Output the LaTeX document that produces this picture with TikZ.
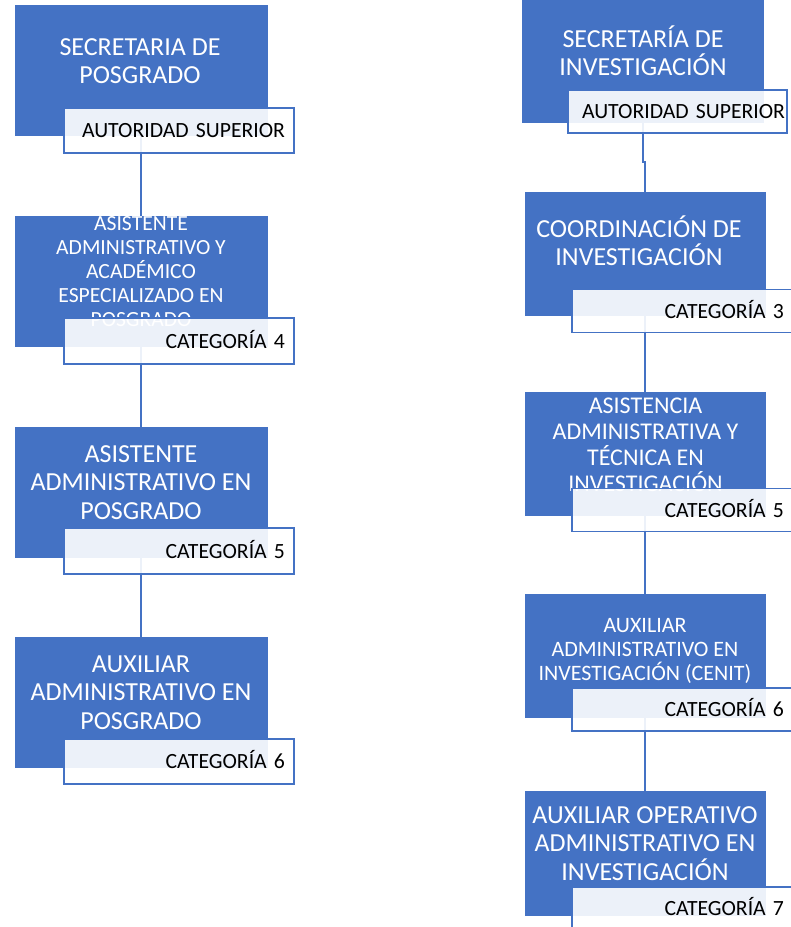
\documentclass[tikz,border=0pt]{standalone}
\usepackage{fontspec}
\setmainfont{Carlito}
\definecolor{unitblue}{HTML}{4472C4}
\begin{document}
\begin{tikzpicture}[x=1pt,y=-1pt,
  unit/.style={fill=unitblue, draw=none, inner sep=0pt, outer sep=0pt},
  % multi-line names: the base anchor sits on the baseline of the last line
  unittext/.style={text=white, align=center, inner sep=0pt, anchor=base},
  big/.style={font=\fontsize{26}{28.5}\selectfont},
  mid/.style={font=\fontsize{24}{26}\selectfont},
  smallish/.style={font=\fontsize{22}{24.3}\selectfont},
  small/.style={font=\fontsize{21.6}{24}\selectfont},
  tag/.style={draw=unitblue, line width=1.8pt, fill=white, fill opacity=0.9,
    text opacity=1, text=black, font=\fontsize{21.7}{24}\selectfont,
    text height=14pt, text depth=0pt, inner ysep=0pt, outer sep=0pt,
    align=right},
  link/.style={draw=unitblue, line width=2pt}]

\clip (0,0) rectangle (791,927);

% ---- Posgrado column: unit boxes
\node[unit, minimum width=253, minimum height=131] (p1) at (141,70.5) {};
\node[unit, minimum width=253, minimum height=131] (p2) at (141,281.5) {};
\node[unit, minimum width=253, minimum height=131] (p3) at (141,492.5) {};
\node[unit, minimum width=253, minimum height=131] (p4) at (141,702.5) {};

% ---- Investigacion column: unit boxes
\node[unit, minimum width=242, minimum height=129] (r1) at (643,58.5) {};
\node[unit, minimum width=241, minimum height=124] (r2) at (645,254) {};
\node[unit, minimum width=241, minimum height=124] (r3) at (645,454) {};
\node[unit, minimum width=241, minimum height=124] (r4) at (645,656) {};
\node[unit, minimum width=241, minimum height=125] (r5) at (645,853.5) {};

% ---- connectors
\draw[link] (p1.south) -- (p2.north);
\draw[link] (p2.south) -- (p3.north);
\draw[link] (p3.south) -- (p4.north);
\draw[link] (r1.south) -- ++(0,39) -| (r2.north);
\draw[link] (r2.south) -- (r3.north);
\draw[link] (r3.south) -- (r4.north);
\draw[link] (r4.south) -- (r5.north);

% ---- unit names
\node[unittext, big] (p1t) at (140,83.5) {SECRETARIA DE\\POSGRADO};
\node[unittext, small] (p2t) at (141,326.5) {ASISTENTE\\ADMINISTRATIVO Y\\ACADÉMICO\\ESPECIALIZADO EN\\POSGRADO};
\node[unittext, big] (p3t) at (141,519) {ASISTENTE\\ADMINISTRATIVO EN\\POSGRADO};
\node[unittext, big] (p4t) at (141,729) {AUXILIAR\\ADMINISTRATIVO EN\\POSGRADO};

\node[unittext, big] (r1t) at (643,75.5) {SECRETARÍA DE\\INVESTIGACIÓN};
\node[unittext, big] (r2t) at (639,265.5) {COORDINACIÓN DE\\INVESTIGACIÓN};
\node[unittext, mid] (r3t) at (645.5,491) {ASISTENCIA\\ADMINISTRATIVA Y\\TÉCNICA EN\\INVESTIGACIÓN};
\node[unittext, smallish] (r4t) at (645,680.6) {AUXILIAR\\ADMINISTRATIVO EN\\INVESTIGACIÓN (CENIT)};
\node[unittext, big] (r5t) at (645,880) {AUXILIAR OPERATIVO\\ADMINISTRATIVO EN\\INVESTIGACIÓN};

% ---- category tags
\node[tag, minimum height=45.5, inner xsep=9, text width=212] (pl1) at (179,130.5) {AUTORIDAD SUPERIOR};
\node[tag, minimum height=45.5, inner xsep=9, text width=212] (pl2) at (179,341) {CATEGORÍA 4};
\node[tag, minimum height=45.5, inner xsep=9, text width=212] (pl3) at (179,551) {CATEGORÍA 5};
\node[tag, minimum height=45.5, inner xsep=9, text width=212] (pl4) at (179,761.5) {CATEGORÍA 6};

\node[tag, minimum height=43, inner xsep=2, text width=215] (rl1) at (677.5,111.5) {AUTORIDAD SUPERIOR};
\node[tag, minimum height=43, inner xsep=12, text width=200] (rl2) at (684,311) {CATEGORÍA 3};
\node[tag, minimum height=43, inner xsep=12, text width=200] (rl3) at (684,510) {CATEGORÍA 5};
\node[tag, minimum height=43, inner xsep=12, text width=200] (rl4) at (684,709.5) {CATEGORÍA 6};
\node[tag, minimum height=43, inner xsep=12, text width=200] (rl5) at (684,908.5) {CATEGORÍA 7};
\end{tikzpicture}
\end{document}
